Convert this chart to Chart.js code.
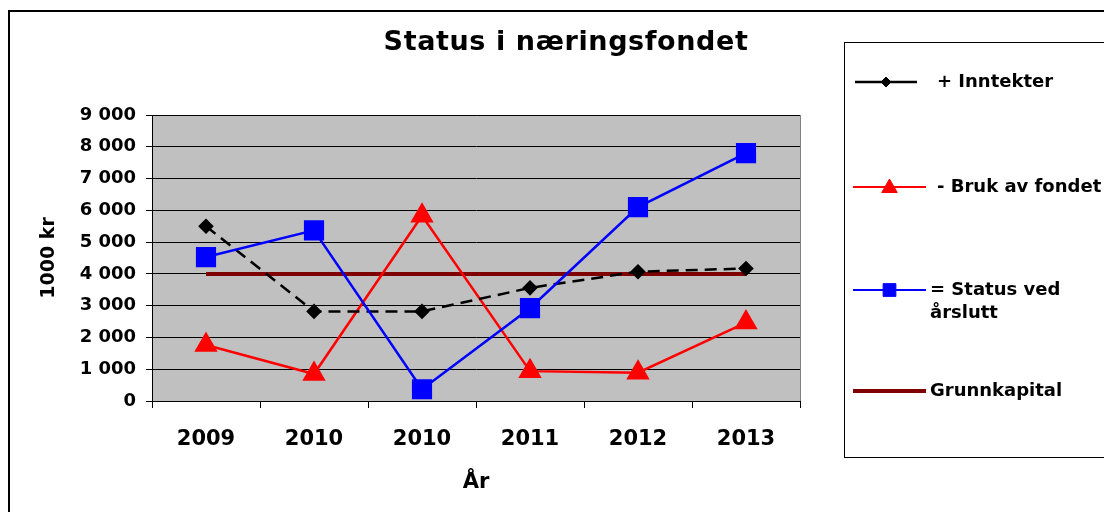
<!DOCTYPE html>
<html>
<head>
<meta charset="utf-8">
<script src="https://cdn.jsdelivr.net/npm/chart.js@4"></script>
<style>
  html, body { margin: 0; padding: 0; background: #fff; }
  #wrap { width: 1104px; height: 512px; position: relative; }
</style>
</head>
<body>
<div id="wrap"><canvas id="chart"></canvas></div>
<script>
// data
const years = ['2009', '2010', '2010', '2011', '2012', '2013'];
const inntekter = [5500, 2820, 2820, 3560, 4070, 4170];
const brukAvFondet = [1760, 850, 5830, 940, 890, 2470];
const statusVedArslutt = [4530, 5370, 370, 2920, 6100, 7800];
const grunnkapital = [4000, 4000, 4000, 4000, 4000, 4000];

const FONT = '"DejaVu Sans", "Liberation Sans", sans-serif';

function spaced(v) {
    return String(v).replace(/\B(?=(\d{3})+(?!\d))/g, ' ');
}

// grey plot area + frames, title, legend box
const decor = {
    id: 'decor',
    beforeDraw(chart) {
        const ctx = chart.ctx;
        const a = chart.chartArea;
        ctx.save();
        ctx.fillStyle = '#c0c0c0';
        ctx.fillRect(a.left, a.top, a.right - a.left, a.bottom - a.top);
        ctx.strokeStyle = '#808080';
        ctx.lineWidth = 1;
        ctx.strokeRect(a.left + 0.5, a.top + 0.5, a.right - a.left, a.bottom - a.top);
        ctx.restore();
    },
    afterDraw(chart) {
        const ctx = chart.ctx;
        ctx.save();
        // outer frame
        ctx.strokeStyle = '#000';
        ctx.lineWidth = 2;
        ctx.strokeRect(9, 11, 1200, 600);
        // title
        ctx.fillStyle = '#000';
        ctx.font = 'bold 27px ' + FONT;
        ctx.letterSpacing = '0.6px';
        ctx.textAlign = 'center';
        ctx.textBaseline = 'alphabetic';
        ctx.fillText('Status i næringsfondet', 566, 50);
        ctx.letterSpacing = '0px';
        // legend box
        ctx.lineWidth = 1;
        ctx.strokeStyle = '#000';
        ctx.strokeRect(844.5, 42.5, 400, 415);

        const rows = [82, 187, 290, 391];
        const lineX = [[855, 917], [853, 926], [853, 926], [853, 926]];
        const textX = [937, 937, 930, 930];
        chart.data.datasets.forEach((ds, i) => {
            const y = rows[i];
            ctx.strokeStyle = ds.borderColor;
            ctx.lineWidth = ds.legendWidth;
            ctx.setLineDash([]);
            ctx.beginPath();
            ctx.moveTo(lineX[i][0], y);
            ctx.lineTo(lineX[i][1], y);
            ctx.stroke();
            if (ds.pointRadius > 0) {
                ctx.fillStyle = ds.pointBackgroundColor;
                ctx.strokeStyle = ds.pointBorderColor;
                ctx.lineWidth = 1;
                Chart.helpers.drawPoint(ctx, {
                    pointStyle: ds.pointStyle,
                    rotation: 0,
                    borderWidth: 1,
                    radius: ds.legendRadius
                }, (lineX[i][0] + lineX[i][1]) / 2, y + (ds.pointStyle === 'triangle' ? 1 : 0));
            }
            ctx.fillStyle = '#000';
            ctx.font = 'bold 18px ' + FONT;
            ctx.textAlign = 'left';
            ctx.textBaseline = 'middle';
            const lines = Array.isArray(ds.legendText) ? ds.legendText : [ds.legendText];
            lines.forEach((t, k) => ctx.fillText(t, textX[i], y + k * 23));
        });
        ctx.restore();
    }
};

const ctx = document.getElementById('chart').getContext('2d');
new Chart(ctx, {
    type: 'line',
    data: {
        labels: years,
        datasets: [
            {
                label: '+ Inntekter',
                legendText: '+ Inntekter',
                data: inntekter,
                borderColor: '#000000',
                borderWidth: 2.5,
                borderDash: [12, 7],
                pointStyle: 'rectRot',
                pointRadius: 6,
                pointBackgroundColor: '#000000',
                pointBorderColor: '#000000',
                legendWidth: 2.5,
                legendRadius: 5,
                order: 1
            },
            {
                label: '- Bruk av fondet',
                legendText: '- Bruk av fondet',
                data: brukAvFondet,
                borderColor: '#ff0000',
                borderWidth: 2.5,
                pointStyle: 'triangle',
                pointRadius: 11,
                pointBackgroundColor: '#ff0000',
                pointBorderColor: '#ff0000',
                legendWidth: 2,
                legendRadius: 9,
                order: 2
            },
            {
                label: '= Status ved årslutt',
                legendText: ['= Status ved', 'årslutt'],
                data: statusVedArslutt,
                borderColor: '#0000ff',
                borderWidth: 2.5,
                pointStyle: 'rect',
                pointRadius: 12.5,
                pointBackgroundColor: '#0000ff',
                pointBorderColor: '#0000ff',
                legendWidth: 2,
                legendRadius: 9,
                order: 0
            },
            {
                label: 'Grunnkapital',
                legendText: 'Grunnkapital',
                data: grunnkapital,
                borderColor: '#800000',
                borderWidth: 4,
                pointRadius: 0,
                legendWidth: 4,
                order: 3
            }
        ]
    },
    options: {
        responsive: true,
        maintainAspectRatio: false,
        animation: false,
        events: [],
        layout: { padding: { left: 34, right: 304, top: 115, bottom: 13 } },
        plugins: {
            legend: { display: false },
            title: { display: false },
            tooltip: { enabled: false }
        },
        elements: { line: { tension: 0 } },
        scales: {
            x: {
                offset: true,
                grid: {
                    offset: true,
                    drawOnChartArea: false,
                    drawTicks: true,
                    tickLength: 7,
                    color: '#000'
                },
                border: { color: '#000', width: 1 },
                ticks: {
                    color: '#000',
                    padding: 19,
                    maxRotation: 0,
                    autoSkip: false,
                    font: { family: FONT, size: 21, weight: 'bold' }
                },
                title: {
                    display: true,
                    text: 'År',
                    color: '#000',
                    font: { family: FONT, size: 21, weight: 'bold' }
                },
                afterFit(scale) { scale.height = 98; }
            },
            y: {
                min: 0,
                max: 9000,
                grid: {
                    color: '#000',
                    lineWidth: 1,
                    tickLength: 6
                },
                border: { color: '#000', width: 1 },
                ticks: {
                    stepSize: 1000,
                    color: '#000',
                    padding: 10,
                    font: { family: FONT, size: 18, weight: 'bold' },
                    callback: v => spaced(v)
                },
                title: {
                    display: true,
                    text: '1000 kr',
                    color: '#000',
                    font: { family: FONT, size: 19, weight: 'bold' }
                },
                afterFit(scale) { scale.width = 118; }
            }
        }
    },
    plugins: [decor]
});
</script>
</body>
</html>
